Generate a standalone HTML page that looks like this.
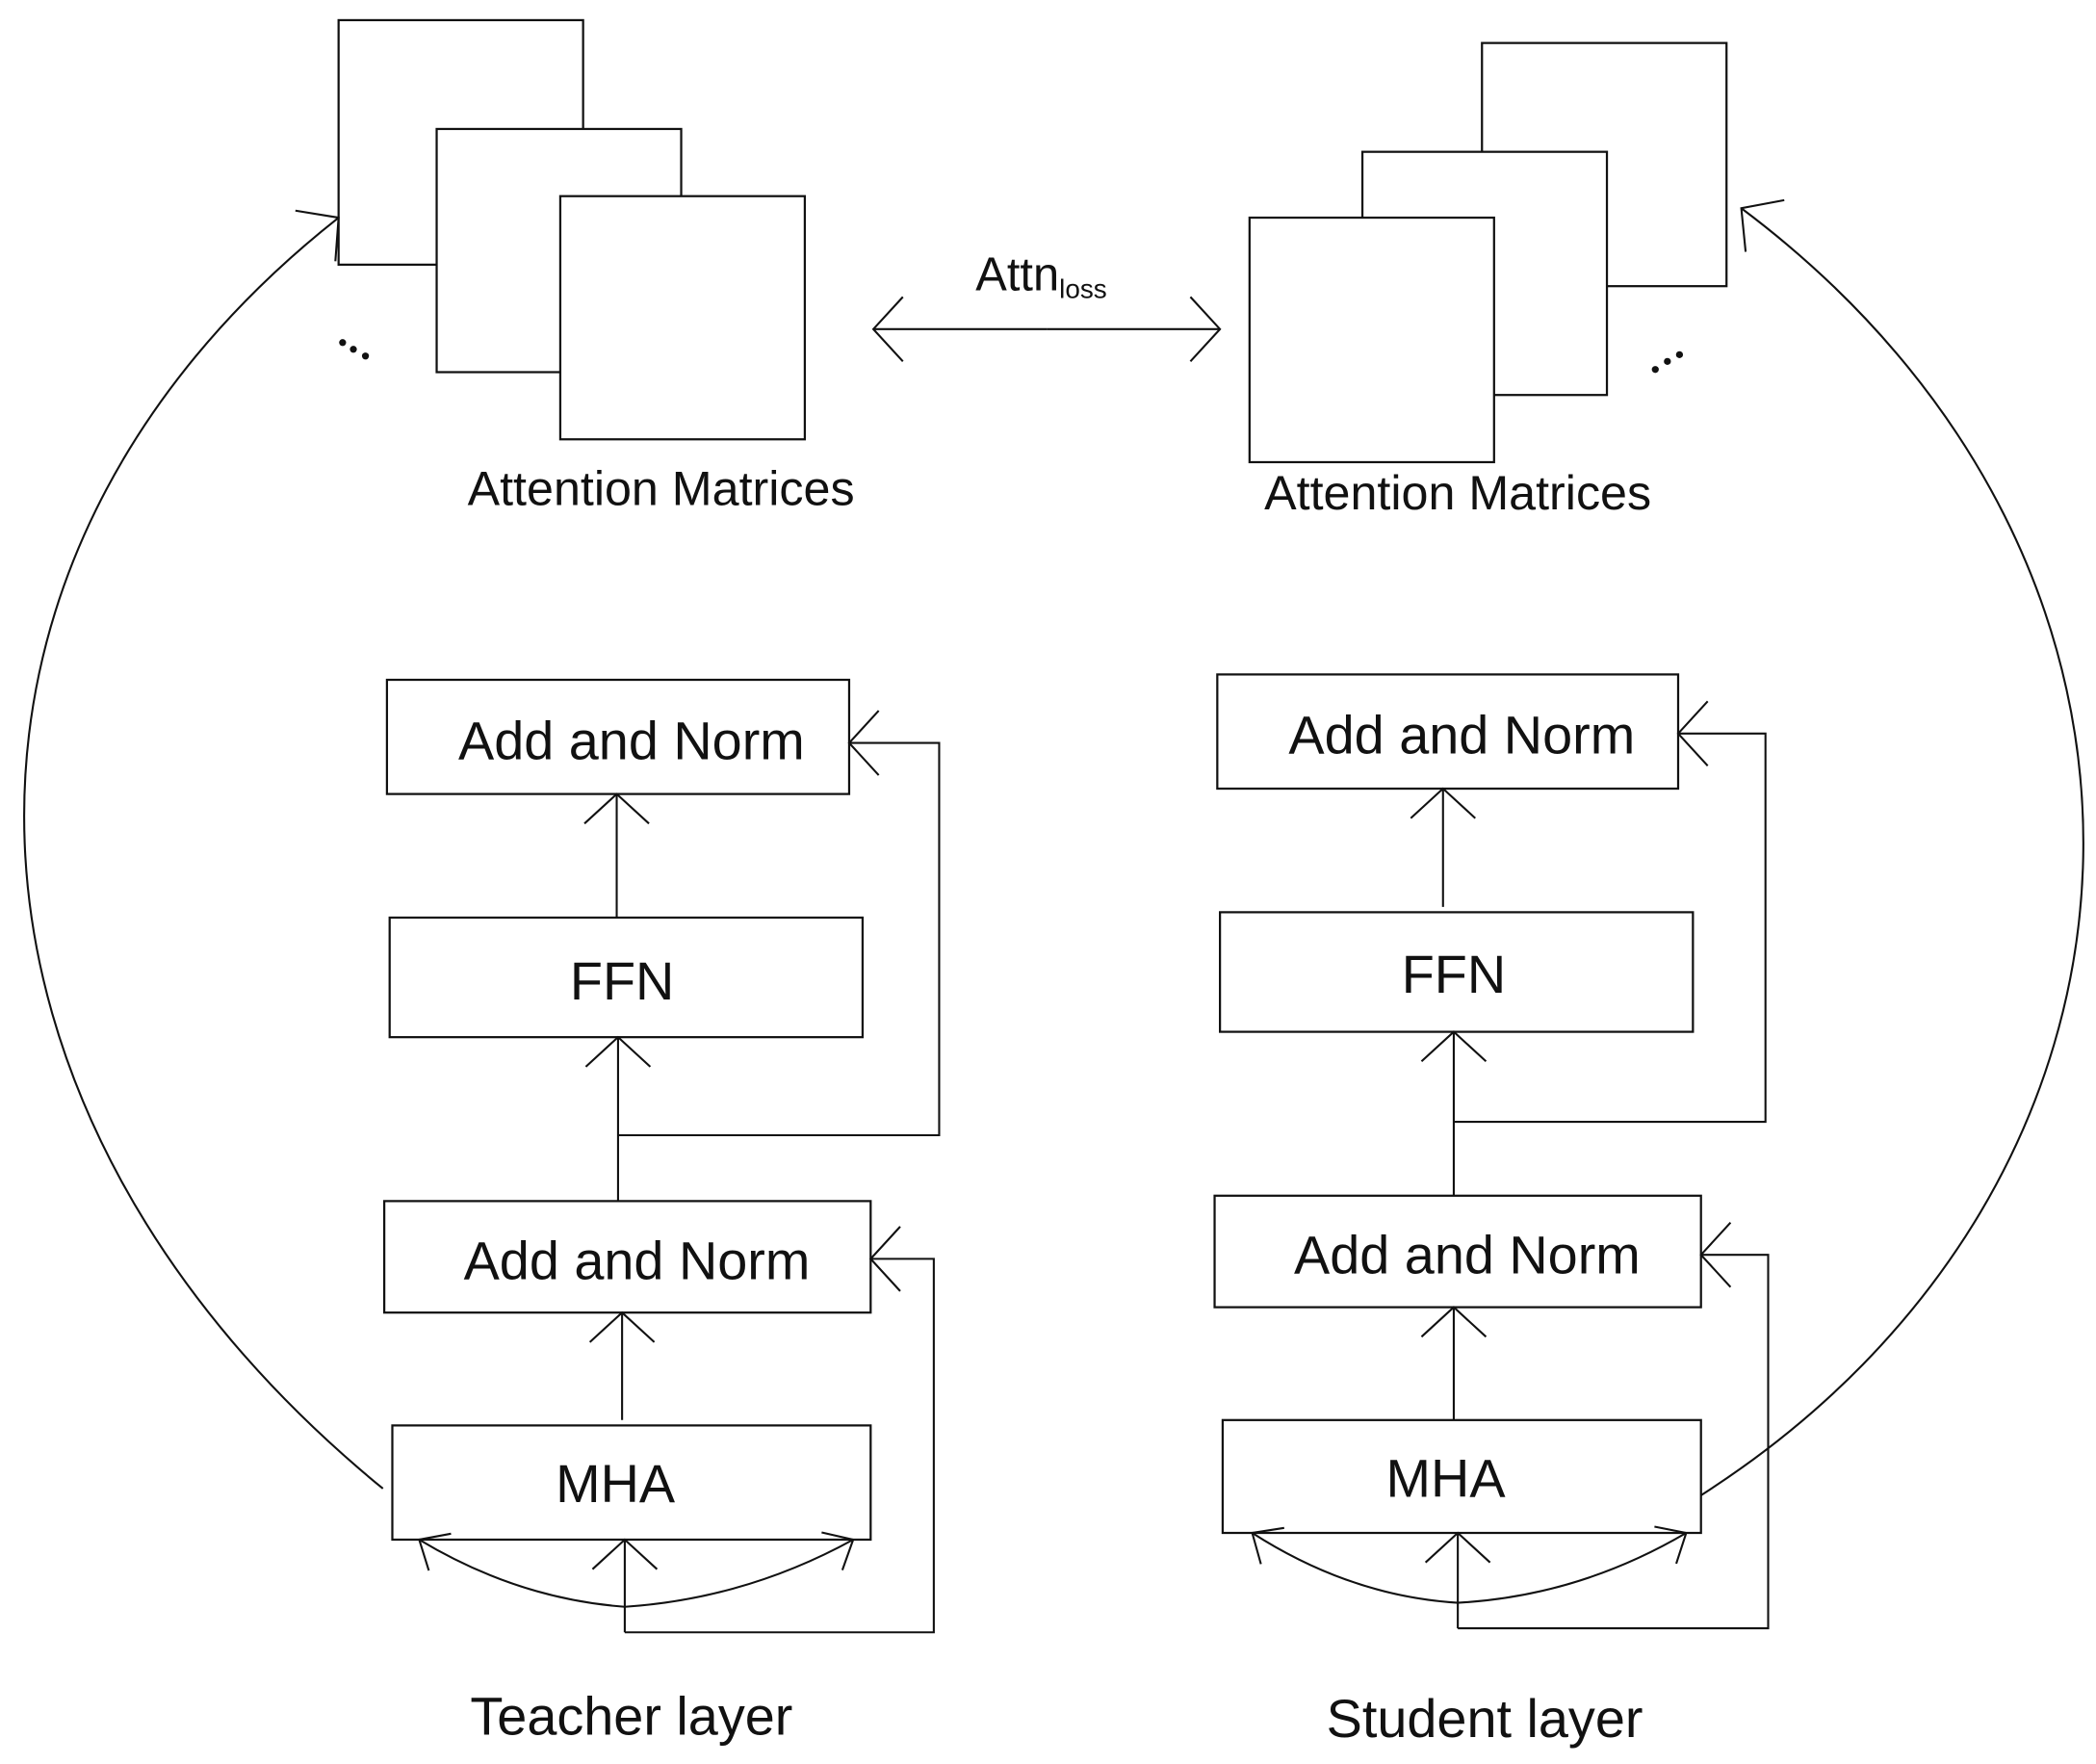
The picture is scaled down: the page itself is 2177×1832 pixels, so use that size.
<!DOCTYPE html>
<html><head><meta charset="utf-8"><style>
html,body{margin:0;padding:0;background:#fff;}
svg{display:block;}
text{font-family:"Liberation Sans",sans-serif;fill:#111;}
</style></head><body>
<svg width="2177" height="1832" viewBox="0 0 1560 1313" preserveAspectRatio="none" xmlns="http://www.w3.org/2000/svg">
<defs>
<marker id="a" markerUnits="userSpaceOnUse" markerWidth="60" markerHeight="60" viewBox="-30 -30 60 60" refX="0" refY="0" orient="auto" style="overflow:visible">
<path d="M-22,-24 L0,0 L-22,24" fill="none" stroke="#111" stroke-width="1.5"/>
</marker>
<marker id="s" markerUnits="userSpaceOnUse" markerWidth="60" markerHeight="60" viewBox="-30 -30 60 60" refX="0" refY="0" orient="auto" style="overflow:visible">
<path d="M-18,-16 L0,0 L-18,16" fill="none" stroke="#111" stroke-width="1.5"/>
</marker>
</defs>
<g fill="#fff" stroke="#111" stroke-width="1.6">
<rect x="252" y="15" width="182" height="182"/>
<rect x="325" y="96" width="182" height="181"/>
<rect x="417" y="146" width="182" height="181"/>
<rect x="1103" y="32" width="182" height="181"/>
<rect x="1014" y="113" width="182" height="181"/>
<rect x="930" y="162" width="182" height="182"/>
<rect x="288" y="506" width="344" height="85"/>
<rect x="290" y="683" width="352" height="89"/>
<rect x="286" y="894" width="362" height="83"/>
<rect x="292" y="1061" width="356" height="85"/>
<rect x="906" y="502" width="343" height="85"/>
<rect x="908" y="679" width="352" height="89"/>
<rect x="904" y="890" width="362" height="83"/>
<rect x="910" y="1057" width="356" height="84"/>
</g>
<g fill="#111">
<circle cx="255" cy="255" r="2.6"/><circle cx="263" cy="260" r="2.6"/><circle cx="272" cy="265" r="2.6"/>
<circle cx="1232" cy="275" r="2.6"/><circle cx="1241" cy="269" r="2.6"/><circle cx="1250" cy="264" r="2.6"/>
</g>
<g fill="none" stroke="#111" stroke-width="1.5">
<line x1="779" y1="245" x2="650" y2="245" marker-end="url(#a)"/>
<line x1="779" y1="245" x2="908" y2="245" marker-end="url(#a)"/>
<line x1="459" y1="683" x2="459" y2="591" marker-end="url(#a)"/>
<line x1="460" y1="894" x2="460" y2="772" marker-end="url(#a)"/>
<polyline points="460,845 699,845 699,553 632,553" marker-end="url(#a)"/>
<line x1="463" y1="1057" x2="463" y2="977" marker-end="url(#a)"/>
<line x1="465" y1="1215" x2="465" y2="1146" marker-end="url(#a)"/>
<polyline points="465,1215 695,1215 695,937 648,937" marker-end="url(#a)"/>
<path d="M465,1196 Q385,1190 312,1146" marker-end="url(#s)"/>
<path d="M465,1196 Q555,1190 635,1146" marker-end="url(#s)"/>
<path d="M285,1108 C-55,830 -75,420 252,162" marker-end="url(#a)"/>
<line x1="1074" y1="675" x2="1074" y2="587" marker-end="url(#a)"/>
<line x1="1082" y1="890" x2="1082" y2="768" marker-end="url(#a)"/>
<polyline points="1082,835 1314,835 1314,546 1249,546" marker-end="url(#a)"/>
<line x1="1082" y1="1057" x2="1082" y2="973" marker-end="url(#a)"/>
<line x1="1085" y1="1212" x2="1085" y2="1141" marker-end="url(#a)"/>
<polyline points="1085,1212 1316,1212 1316,934 1266,934" marker-end="url(#a)"/>
<path d="M1085,1193 Q1005,1188 932,1141" marker-end="url(#s)"/>
<path d="M1085,1193 Q1175,1188 1255,1141" marker-end="url(#s)"/>
<path d="M1266,1113 C1630,880 1650,420 1296,155" marker-end="url(#a)"/>
</g>
<g text-anchor="middle">
<text x="492" y="376" font-size="36">Attention Matrices</text>
<text x="1085" y="379" font-size="36">Attention Matrices</text>
<text x="775" y="216" font-size="35">Attn<tspan font-size="20" dy="6">loss</tspan></text>
<text x="470" y="565" font-size="40">Add and Norm</text>
<text x="463" y="744" font-size="40">FFN</text>
<text x="474" y="952" font-size="40">Add and Norm</text>
<text x="458" y="1118" font-size="40">MHA</text>
<text x="1088" y="561" font-size="40">Add and Norm</text>
<text x="1082" y="739" font-size="40">FFN</text>
<text x="1092" y="948" font-size="40">Add and Norm</text>
<text x="1076" y="1114" font-size="40">MHA</text>
<text x="470" y="1291" font-size="40">Teacher layer</text>
<text x="1105" y="1293" font-size="40">Student layer</text>
</g>
</svg>
</body></html>
